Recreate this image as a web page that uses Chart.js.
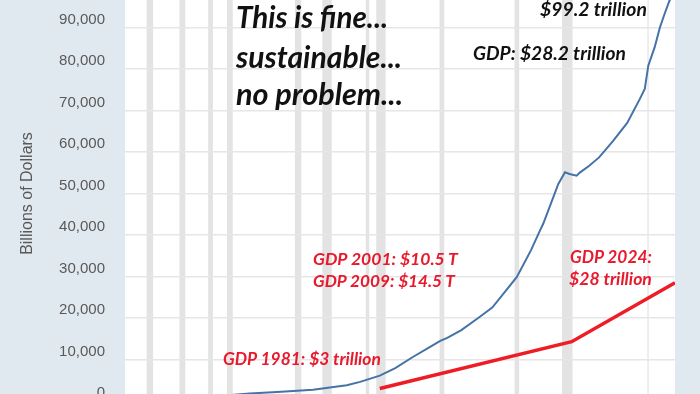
<!DOCTYPE html>
<html><head><meta charset="utf-8">
<script src="https://cdn.jsdelivr.net/npm/chart.js@4"></script>
<style>
html,body{margin:0;padding:0;width:700px;height:394px;overflow:hidden;background:#e1e9f0;}
#wrap{position:absolute;left:0;top:-43px;width:700px;height:483px;}
.note{position:absolute;white-space:nowrap;font-family:Lato,'Open Sans',sans-serif;font-style:italic;font-weight:700;line-height:1;}
.blk{color:#111;}
.red{color:#e8192c;}
</style></head><body>
<div id="wrap"><canvas id="c"></canvas></div>
<div class="note blk" data-l="236" data-cy="18.5" data-w="152">This is fine...</div>
<div class="note blk" data-l="236" data-cy="58" data-w="166">sustainable...</div>
<div class="note blk" data-l="236" data-cy="96.5" data-w="167">no problem...</div>
<div class="note blk" data-l="540" data-cy="9.5" data-w="107">$99.2 trillion</div>
<div class="note blk" data-l="473" data-cy="53.3" data-w="153">GDP: $28.2 trillion</div>
<div class="note red" data-l="313" data-cy="259.8" data-w="145">GDP 2001: $10.5 T</div>
<div class="note red" data-l="313" data-cy="281.8" data-w="142">GDP 2009: $14.5 T</div>
<div class="note red" data-l="223" data-cy="359.8" data-w="158">GDP 1981: $3 trillion</div>
<div class="note red" data-l="570" data-cy="257.5" data-w="82">GDP 2024:</div>
<div class="note red" data-l="569" data-cy="279.5" data-w="83">$28 trillion</div>
<script>
// ---- data ----
const debtYears  = [1945.75,1950,1955,1960,1963.5,1968,1972.5,1977.3,1979.2,1982,1984.2,1986.7,1989.1,1990.6,1991.6,1993.6,1996,1998,2000,2001.5,2003.5,2004.8,2005.25,2007.4,2008.35,2009,2010,2010.5,2011.8,2013.2,2015.2,2017.2,2019,2019.7,2020.2,2021.1,2021.85,2022.5,2023.2,2024];
const debtValues = [400,600,900,1300,1800,2200,2700,3800,4600,6100,7900,10600,13000,14500,15200,17100,20000,22500,26700,29900,36300,41100,42700,52300,55100,54700,54300,55100,56700,58700,62700,67000,72800,75200,80800,85200,90000,93200,96400,99200];
const gdpYears   = [1982,2009.3,2024];
const gdpValues  = [3000,14300,28500];
const recStart   = [1945.08,1948.83,1953.5,1957.58,1960.25,1969.92,1973.83,1980.0,1981.5,1990.5,2001.17,2007.92,2020.08];
const recEnd     = [1945.75,1949.75,1954.33,1958.25,1961.08,1970.83,1975.17,1980.5,1982.83,1991.17,2001.83,2009.42,2020.25];
const yTicks     = {min:0,max:100000,step:10000};

const debtData = debtYears.map((x,i)=>({x,y:debtValues[i]}));
const gdpData  = gdpYears.map((x,i)=>({x,y:gdpValues[i]}));

const bgPlugin = {
  id:'bg',
  beforeDraw(chart){
    const {ctx, chartArea:a, scales:{x}} = chart;
    ctx.save();
    ctx.fillStyle='#ffffff';
    ctx.fillRect(a.left,a.top,a.right-a.left,a.bottom-a.top);
    ctx.fillStyle='#e3e3e3';
    for(let i=0;i<recStart.length;i++){
      const x0=Math.max(x.getPixelForValue(recStart[i]),a.left);
      const x1=Math.min(x.getPixelForValue(recEnd[i]),a.right);
      if(x1>x0) ctx.fillRect(x0,a.top,x1-x0,a.bottom-a.top);
    }
    ctx.restore();
  }
};

new Chart(document.getElementById('c'),{
  type:'line',
  data:{datasets:[
    {data:debtData,borderColor:'#4572a7',borderWidth:2,pointRadius:0,tension:0,fill:false},
    {data:gdpData,borderColor:'#ee1c25',borderWidth:3.5,pointRadius:0,tension:0,fill:false}
  ]},
  options:{
    responsive:true,maintainAspectRatio:false,animation:false,
    layout:{padding:{left:0,right:25,top:15,bottom:39}},
    plugins:{legend:{display:false},tooltip:{enabled:false}},
    scales:{
      x:{type:'linear',min:1945.75,max:2024,display:false},
      y:{min:yTicks.min,max:yTicks.max,
        afterFit(s){s.width=125;},
        grid:{color:'#e6e6e6',lineWidth:1.5,drawTicks:false},
        border:{display:false},
        ticks:{stepSize:yTicks.step,padding:20,labelOffset:-8,color:'#595959',
          font:{family:"'Liberation Sans Narrow','Liberation Sans',Arial",size:15},
          callback:v=>v.toLocaleString('en-US')},
        title:{display:true,text:'Billions of Dollars',color:'#595959',
          font:{family:"'Liberation Sans',Arial",size:16},padding:{top:18,bottom:0}}
      }
    }
  },
  plugins:[bgPlugin]
});

// fit annotation text
document.querySelectorAll('.note').forEach(el=>{
  let fs=20; el.style.fontSize=fs+'px';
  const w=el.getBoundingClientRect().width;
  fs=fs*(+el.dataset.w)/w;
  el.style.fontSize=fs.toFixed(2)+'px';
  el.style.left=el.dataset.l+'px';
  el.style.top=(+el.dataset.cy - 0.56*fs).toFixed(1)+'px';
});
</script>
</body></html>
